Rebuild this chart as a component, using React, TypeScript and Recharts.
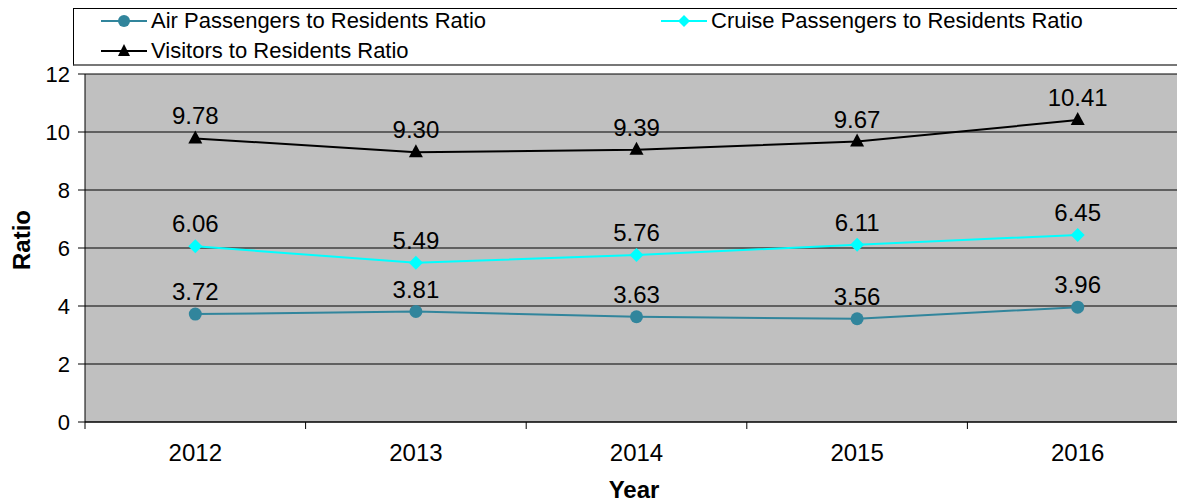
import { LineChart, Line, XAxis, YAxis, CartesianGrid, Legend, LabelList, Label } from 'recharts';

const years = ['2012', '2013', '2014', '2015', '2016'];
const airRatio = [3.72, 3.81, 3.63, 3.56, 3.96];
const cruiseRatio = [6.06, 5.49, 5.76, 6.11, 6.45];
const visitorRatio = [9.78, 9.3, 9.39, 9.67, 10.41];
const yTicks = [0, 2, 4, 6, 8, 10, 12];

const FONT = '"Liberation Sans", Arial, sans-serif';
const AIR = '#31859C';
const CRUISE = '#00FFFF';
const VISITORS = '#000000';

const data = years.map((year, i) => ({
  year,
  air: airRatio[i],
  cruise: cruiseRatio[i],
  visitors: visitorRatio[i],
}));

const CircleDot = (props: any) => {
  const { cx, cy } = props;
  if (cx == null || cy == null) return null;
  return <circle cx={cx} cy={cy} r={6.5} fill={AIR} />;
};

const DiamondDot = (props: any) => {
  const { cx, cy } = props;
  if (cx == null || cy == null) return null;
  const s = 7;
  return <polygon points={`${cx},${cy - s} ${cx + s},${cy} ${cx},${cy + s} ${cx - s},${cy}`} fill={CRUISE} />;
};

const TriangleDot = (props: any) => {
  const { cx, cy } = props;
  if (cx == null || cy == null) return null;
  return <polygon points={`${cx},${cy - 8} ${cx + 7},${cy + 5} ${cx - 7},${cy + 5}`} fill={VISITORS} />;
};

const YearTick = (props: any) => {
  const { x, y, payload, index } = props;
  const half = payload && payload.offset ? payload.offset : 110.25;
  return (
    <g>
      <line x1={x - half} y1={y} x2={x - half} y2={y + 7} stroke="#000" />
      {index === years.length - 1 && <line x1={x + half} y1={y} x2={x + half} y2={y + 7} stroke="#000" />}
      <text x={x} y={y + 39} textAnchor="middle" fontSize={24} fontFamily={FONT} fill="#000">
        {payload.value}
      </text>
    </g>
  );
};

const RatioTick = (props: any) => {
  const { x, y, payload } = props;
  return (
    <text x={x} y={y + 8} textAnchor="end" fontSize={22} fontFamily={FONT} fill="#000">
      {payload.value}
    </text>
  );
};

const legendItems = [
  { name: 'Air Passengers to Residents Ratio', color: AIR, marker: 'circle', left: 27, top: 12 },
  { name: 'Cruise Passengers to Residents Ratio', color: CRUISE, marker: 'diamond', left: 587, top: 12 },
  { name: 'Visitors to Residents Ratio', color: VISITORS, marker: 'triangle', left: 27, top: 42 },
];

const LegendBox = () => (
  <div
    style={{
      position: 'relative',
      width: '100%',
      height: 58,
      boxSizing: 'border-box',
      border: '1px solid #000',
      borderBottom: '2px solid #777',
      background: '#fff',
      fontFamily: FONT,
    }}
  >
    {legendItems.map((it) => (
      <div
        key={it.name}
        style={{ position: 'absolute', left: it.left, top: it.top - 13, height: 26, display: 'flex', alignItems: 'center' }}
      >
        <svg width={46} height={16}>
          <line x1={0} y1={8} x2={46} y2={8} stroke={it.color} strokeWidth={2} />
          {it.marker === 'circle' && <circle cx={23} cy={8} r={6} fill={it.color} />}
          {it.marker === 'diamond' && <polygon points="23,2 29,8 23,14 17,8" fill={it.color} />}
          {it.marker === 'triangle' && <polygon points="23,1 29,13 17,13" fill={it.color} />}
        </svg>
        <span style={{ marginLeft: 4, fontSize: 22, color: '#000', whiteSpace: 'nowrap' }}>{it.name}</span>
      </div>
    ))}
  </div>
);

const fmt = (v: any) => Number(v).toFixed(2);

export default function App() {
  return (
    <div style={{ position: 'fixed', left: 0, top: 0, width: 1177, height: 504, overflow: 'hidden', background: '#fff' }}>
      <LineChart width={1188} height={504} data={data} margin={{ top: 74, right: 0, bottom: 0, left: 0 }}>
        <CartesianGrid horizontal vertical={false} fill="#C0C0C0" stroke="#000" />
        <XAxis
          dataKey="year"
          scale="band"
          height={82}
          tickSize={0}
          tickMargin={0}
          tickLine={false}
          axisLine={{ stroke: '#000' }}
          tick={<YearTick />}
          interval={0}
        >
          <Label
            content={(p: any) => {
              const vb = p.viewBox;
              return (
                <text x={634} y={vb.y + 76} textAnchor="middle" fontSize={24} fontWeight="bold" fontFamily={FONT} fill="#000">
                  Year
                </text>
              );
            }}
          />
        </XAxis>
        <YAxis
          width={85}
          domain={[0, 12]}
          ticks={yTicks}
          interval={0}
          tickSize={7}
          tickMargin={8}
          axisLine={{ stroke: '#000' }}
          tickLine={{ stroke: '#000' }}
          tick={<RatioTick />}
        >
          <Label
            content={(p: any) => {
              const vb = p.viewBox;
              const cy = vb.y + vb.height / 2 - 8;
              return (
                <text
                  x={30}
                  y={cy}
                  transform={`rotate(-90 30 ${cy})`}
                  textAnchor="middle"
                  fontSize={24}
                  fontWeight="bold"
                  fontFamily={FONT}
                  fill="#000"
                >
                  Ratio
                </text>
              );
            }}
          />
        </YAxis>
        <Legend
          layout="horizontal"
          verticalAlign="middle"
          align="center"
          content={() => <LegendBox />}
          wrapperStyle={{ position: 'absolute', top: 8, left: 73, width: 1130, height: 58 }}
        />
        <Line
          type="linear"
          dataKey="air"
          name="Air Passengers to Residents Ratio"
          stroke={AIR}
          strokeWidth={2}
          dot={<CircleDot />}
          activeDot={false}
          isAnimationActive={false}
        >
          <LabelList dataKey="air" position="top" offset={14} formatter={fmt} fontSize={24} fill="#000" fontFamily={FONT} />
        </Line>
        <Line
          type="linear"
          dataKey="cruise"
          name="Cruise Passengers to Residents Ratio"
          stroke={CRUISE}
          strokeWidth={2}
          dot={<DiamondDot />}
          activeDot={false}
          isAnimationActive={false}
        >
          <LabelList dataKey="cruise" position="top" offset={14} formatter={fmt} fontSize={24} fill="#000" fontFamily={FONT} />
        </Line>
        <Line
          type="linear"
          dataKey="visitors"
          name="Visitors to Residents Ratio"
          stroke={VISITORS}
          strokeWidth={2}
          dot={<TriangleDot />}
          activeDot={false}
          isAnimationActive={false}
        >
          <LabelList dataKey="visitors" position="top" offset={14} formatter={fmt} fontSize={24} fill="#000" fontFamily={FONT} />
        </Line>
      </LineChart>
    </div>
  );
}
